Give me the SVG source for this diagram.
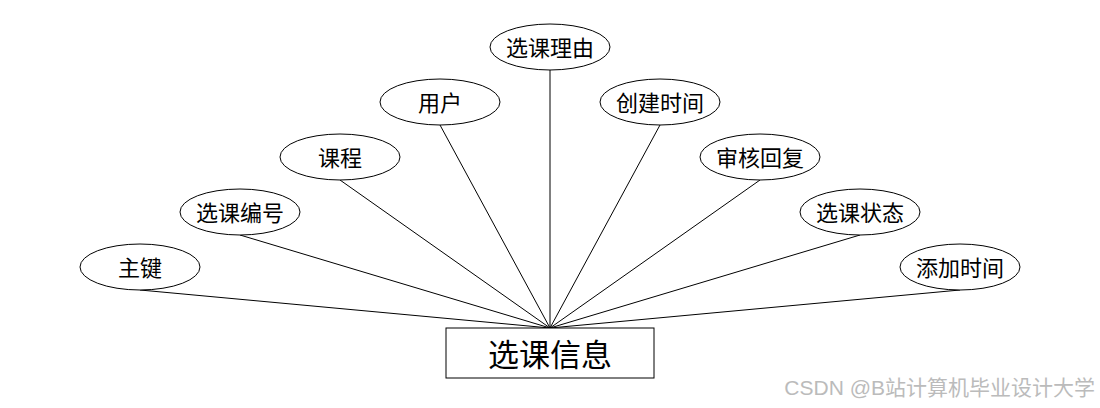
<svg xmlns="http://www.w3.org/2000/svg" width="1100" height="408" viewBox="0 0 1100 408">
<style>
.e{fill:#fff;stroke:#000;stroke-width:1}
.t{font-family:"Noto Sans CJK SC","Liberation Sans",sans-serif;font-size:22px;fill:#000;text-anchor:middle;dominant-baseline:central}
.c line{stroke:#000;stroke-width:1}
</style>
<rect width="1100" height="408" fill="#fff"/>
<g class="c" id="connectors">
<line x1="140" y1="290" x2="550" y2="328"/>
<line x1="240" y1="235" x2="550" y2="328"/>
<line x1="340" y1="180" x2="550" y2="328"/>
<line x1="440" y1="125" x2="550" y2="328"/>
<line x1="550" y1="70" x2="550" y2="328"/>
<line x1="660" y1="125" x2="550" y2="328"/>
<line x1="760" y1="180" x2="550" y2="328"/>
<line x1="860" y1="235" x2="550" y2="328"/>
<line x1="960" y1="290" x2="550" y2="328"/>
</g>
<g id="main"><rect x="446" y="328" width="208" height="50" fill="#fff" stroke="#000"/><text class="t" x="550" y="352" style="font-size:31px">选课信息</text></g>
<g id="n1"><ellipse class="e" cx="140" cy="267" rx="60" ry="23"/><text class="t" x="140" y="266">主键</text></g>
<g id="n2"><ellipse class="e" cx="240" cy="212" rx="60" ry="23"/><text class="t" x="240" y="211">选课编号</text></g>
<g id="n3"><ellipse class="e" cx="340" cy="157" rx="60" ry="23"/><text class="t" x="340" y="156">课程</text></g>
<g id="n4"><ellipse class="e" cx="440" cy="102" rx="60" ry="23"/><text class="t" x="440" y="101">用户</text></g>
<g id="n5"><ellipse class="e" cx="550" cy="47" rx="60" ry="23"/><text class="t" x="550" y="46">选课理由</text></g>
<g id="n6"><ellipse class="e" cx="660" cy="102" rx="60" ry="23"/><text class="t" x="660" y="101">创建时间</text></g>
<g id="n7"><ellipse class="e" cx="760" cy="157" rx="60" ry="23"/><text class="t" x="760" y="156">审核回复</text></g>
<g id="n8"><ellipse class="e" cx="860" cy="212" rx="60" ry="23"/><text class="t" x="860" y="211">选课状态</text></g>
<g id="n9"><ellipse class="e" cx="960" cy="267" rx="60" ry="23"/><text class="t" x="960" y="266">添加时间</text></g>
<text x="1095" y="395" font-family="'Liberation Sans','Noto Sans CJK SC',sans-serif" font-size="21" fill="#bbb" text-anchor="end">CSDN @B站计算机毕业设计大学</text>
</svg>
